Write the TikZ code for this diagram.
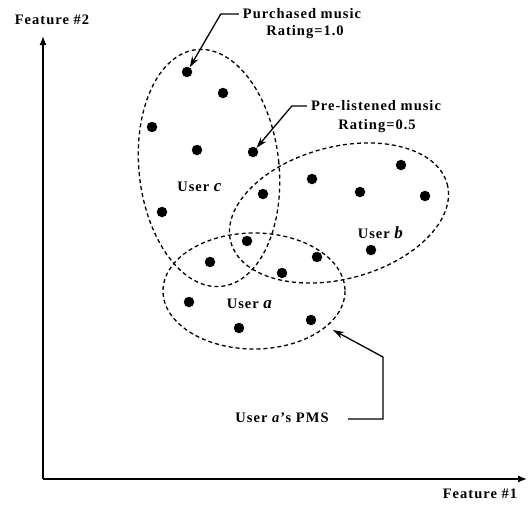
\documentclass[tikz,border=0pt]{standalone}
\usepackage{fontspec}
\setmainfont{Liberation Serif}[LetterSpace=7]
\usetikzlibrary{arrows.meta}
\begin{document}
\begin{tikzpicture}[x=1pt,y=-1pt,
  dot/.style={circle,fill=black,inner sep=0pt,minimum size=10.5pt},
  lbl/.style={font=\fontsize{14.5}{16}\selectfont\bfseries,inner sep=1pt},
  ulbl/.style={font=\fontsize{14.5}{16}\selectfont\bfseries,inner sep=1pt},
  cluster/.style={draw=black,line width=1.3pt,dash pattern=on 4pt off 3pt},
  axisline/.style={draw=black,line width=1.3pt,-{Latex[length=9pt,width=7pt]}},
  leader/.style={draw=black,line width=1.3pt,-{Stealth[length=11pt,width=7pt]}}]
\useasboundingbox (0,0) rectangle (529,506);
% axes
\coordinate (o) at (43,479);
\coordinate (ytip) at (43,36);
\coordinate (xtip) at (527,479);
\draw[axisline] (o) -- (ytip);
\draw[axisline] (o) -- (xtip);
\node[lbl] (f2) at (52,20) {Feature \#2};
\node[lbl] (f1) at (480,494) {Feature \#1};
% clusters
\draw[cluster,rotate around={6:(209,168)}] (209,168) ellipse [x radius=70, y radius=119];
\draw[cluster,rotate around={15:(339,213)}] (339,213) ellipse [x radius=112, y radius=66];
\draw[cluster] (254,291) ellipse [x radius=91, y radius=58];
% dots
\node[dot] (d1) at (187,72) {};
\node[dot] (d2) at (223,93) {};
\node[dot] (d3) at (152,127) {};
\node[dot] (d4) at (197,150) {};
\node[dot] (d5) at (253,152) {};
\node[dot] (d6) at (162,212) {};
\node[dot] (d7) at (263,194) {};
\node[dot] (d8) at (312,179) {};
\node[dot] (d9) at (360,192) {};
\node[dot] (d10) at (401,165) {};
\node[dot] (d11) at (425,196) {};
\node[dot] (d12) at (371,250) {};
\node[dot] (d13) at (317,257) {};
\node[dot] (d14) at (282,273) {};
\node[dot] (d15) at (247,241) {};
\node[dot] (d16) at (210,262) {};
\node[dot] (d17) at (189,302) {};
\node[dot] (d18) at (239,328) {};
\node[dot] (d19) at (311,320) {};
% cluster labels
\node[ulbl] (uc) at (200,187) {User \textit{\fontsize{17}{17}\selectfont c}};
\node[ulbl] (ub) at (381,233) {User \textit{\fontsize{17}{17}\selectfont b}};
\node[ulbl] (ua) at (250,304) {User \textit{\fontsize{17}{17}\selectfont a}};
% annotations
\node[lbl] (pm1) at (302,14) {Purchased music};
\node[lbl] (pm2) at (305,32) {Rating=1.0};
\node[lbl] (pl1) at (376,106) {Pre-listened music};
\node[lbl] (pl2) at (377,126) {Rating=0.5};
\node[lbl] (pms) at (282,418) {User \textit{a}'s PMS};
\coordinate (pmsStart) at (348,419);
\coordinate (pmsCorner) at (383,419);
\coordinate (pmsUp) at (383,357);
\coordinate (pmsTip) at (333,330);
\draw[leader] ([xshift=-3pt]pm1.west) -- ++(-18,0) -- (d1);
\draw[leader] ([xshift=-3pt]pl1.west) -- ++(-15,0) -- (d5);
\draw[leader] (pmsStart) -- (pmsCorner) -- (pmsUp) -- (pmsTip);
\end{tikzpicture}
\end{document}
